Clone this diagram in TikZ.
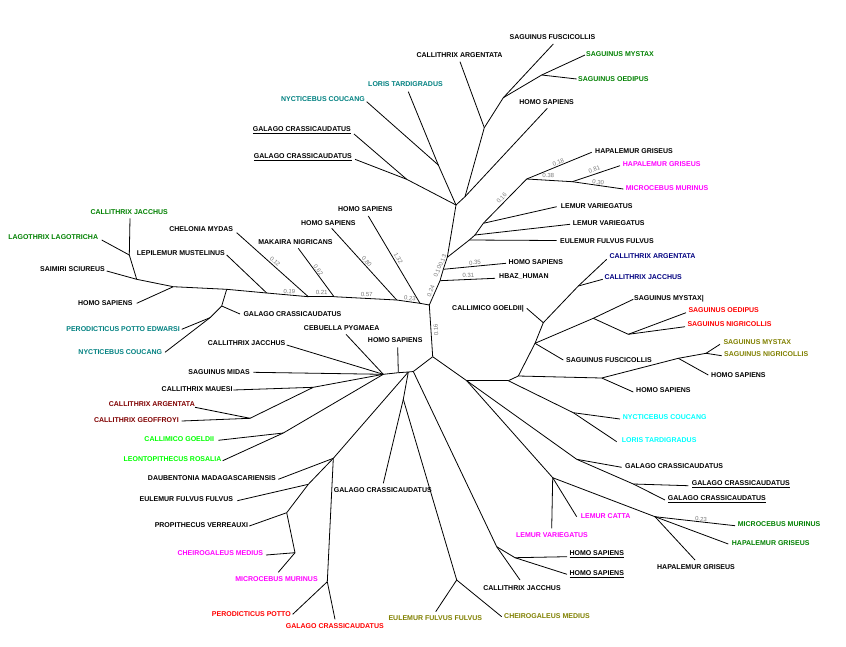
\documentclass[tikz,border=0pt]{standalone}
\usepackage{fontspec}
\setmainfont{Liberation Sans}
\newcommand\leaffont{\fontsize{7}{8}\selectfont\bfseries}
\newcommand\brnumfont{\fontsize{6}{7}\selectfont}
\definecolor{tealc}{RGB}{0,128,128}
\definecolor{greenc}{RGB}{0,128,0}
\definecolor{magc}{RGB}{255,0,255}
\definecolor{navyc}{RGB}{0,0,128}
\definecolor{redc}{RGB}{255,0,0}
\definecolor{olivec}{RGB}{128,128,0}
\definecolor{maroonc}{RGB}{128,0,0}
\definecolor{limec}{RGB}{0,255,0}
\definecolor{cyanc}{RGB}{0,255,255}
\definecolor{numgray}{RGB}{120,120,120}
\tikzset{
  br/.style={line width=0.8pt},
  lf/.style={font=\leaffont, inner sep=0pt},
  num/.style={font=\brnumfont, text=numgray, inner sep=0pt},
}
\begin{document}
\begin{tikzpicture}[x=1pt,y=-1pt]
\useasboundingbox (0,0) rectangle (846,646);
% ---------- coordinates: top cluster
\coordinate (A) at (456,205);
\coordinate (g) at (406.7,179.3); \coordinate (tGal1) at (354,134); \coordinate (tGal2) at (355,159.3);
\coordinate (n) at (438.3,165); \coordinate (tNyc) at (366.7,101.7); \coordinate (tLor) at (408.3,91.7);
\coordinate (h) at (465,196.7); \coordinate (tHomo) at (547.3,108.3);
\coordinate (c) at (484.3,127.7); \coordinate (tCarg) at (460,61.7);
\coordinate (s) at (503.3,97.7); \coordinate (tSfus) at (553.3,44);
\coordinate (m) at (541.7,75); \coordinate (tSmys) at (585,55); \coordinate (tSoed) at (576.7,79);
% spine and lemur cluster
\coordinate (j1) at (447.3,257.3); \coordinate (j2) at (443.3,269.3); \coordinate (j3) at (440,280.7); \coordinate (Q) at (429.3,305);
\coordinate (lHomo) at (506,263.3); \coordinate (lHbaz) at (495,278.3);
\coordinate (L0) at (469.3,240); \coordinate (lEul) at (556.7,240.5);
\coordinate (L) at (475,235); \coordinate (lLv2) at (570,224.3);
\coordinate (L1) at (483.3,223.3); \coordinate (lLv1) at (556.7,206.7);
\coordinate (H) at (526.7,179); \coordinate (lHg1) at (591.7,152.3);
\coordinate (H2) at (572.3,181.7); \coordinate (lHg2) at (620,165.7); \coordinate (lMic) at (623.3,189);
% left cluster
\coordinate (P1) at (420,303.3); \coordinate (wH132) at (368.3,216);
\coordinate (P2) at (396.7,300); \coordinate (wH080) at (331.7,228.3);
\coordinate (P3) at (334,296.7); \coordinate (wMak) at (298.3,248.3);
\coordinate (P4) at (308.3,296.7); \coordinate (wChe) at (236.7,232.7);
\coordinate (P5) at (266.7,293); \coordinate (wLep) at (226.7,255);
\coordinate (P6) at (226.7,289.3); \coordinate (gp) at (221.7,306); \coordinate (wGal) at (240,314);
\coordinate (pn) at (210,317.7); \coordinate (wPer) at (181.7,329.3); \coordinate (wNyc) at (165,352.3);
\coordinate (P7) at (173.3,286.7); \coordinate (wHomo) at (136.7,303.3);
\coordinate (P8) at (136.7,279.3); \coordinate (la) at (129.3,255); \coordinate (wCjac) at (130,218.3);
\coordinate (wLag) at (101.7,240); \coordinate (wSai) at (106.7,271);
% bottom-left
\coordinate (R) at (432.7,356.7);
\coordinate (S0) at (413.3,371.5); \coordinate (S1) at (408.3,372); \coordinate (S2) at (398.3,372.7); \coordinate (S3) at (383.3,374.3);
\coordinate (bHomo) at (397.7,347.3); \coordinate (bCeb) at (346,334.3); \coordinate (bCjac) at (286.7,345);
\coordinate (bSmid) at (253.3,372.3);
\coordinate (mk) at (313.3,387.3); \coordinate (bMau) at (233.3,390);
\coordinate (ag) at (250,418.3); \coordinate (bCarg) at (195,407.3); \coordinate (bCgeo) at (181.7,421);
\coordinate (cl) at (283.3,433); \coordinate (bCalm) at (218.3,440.3); \coordinate (bLeo) at (222.7,460.7);
\coordinate (d0) at (333.3,458.3); \coordinate (bDau) at (278.3,479.3);
\coordinate (eu) at (308.3,484.3); \coordinate (bEul) at (237.3,500.7);
\coordinate (pv) at (286.7,512.7); \coordinate (bPro) at (249.3,526);
\coordinate (cm) at (295,552.7); \coordinate (bChe) at (266,555); \coordinate (bMic) at (278.3,572.3);
\coordinate (pg) at (327.3,581.7); \coordinate (bPer) at (292.7,614.3); \coordinate (bGal) at (335,619.3);
\coordinate (ge) at (403.3,399.3); \coordinate (bGalk) at (383.3,483.3);
\coordinate (E) at (456.7,580); \coordinate (bEulo) at (435.7,611.7); \coordinate (bCheo) at (501.7,616.7);
\coordinate (CJ) at (496.7,546.7); \coordinate (bCjk) at (520,580);
\coordinate (HH) at (515,557.7); \coordinate (bHs1) at (567,556.7); \coordinate (bHs2) at (567,574.3);
% right cluster
\coordinate (T) at (466.7,380.7); \coordinate (T2) at (508.3,380.7); \coordinate (T3) at (518.3,376);
\coordinate (F) at (535,343.3); \coordinate (F0) at (543.3,322.7); \coordinate (cc) at (578.3,286);
\coordinate (rCarg) at (606.7,259.3); \coordinate (rCjac) at (602.7,279.3); \coordinate (rCalm) at (526.7,308.3);
\coordinate (rSfus) at (563.3,360); \coordinate (ms) at (593.3,318.3); \coordinate (rSmys) at (633.3,299.3);
\coordinate (SO) at (628.3,334.3); \coordinate (rSoed) at (686,312.7); \coordinate (rSnig) at (685,326.7);
\coordinate (HS2) at (601.7,378); \coordinate (rHs1) at (633.3,392);
\coordinate (HM) at (678.3,358.3); \coordinate (rHs2) at (708.3,375);
\coordinate (SN) at (706,353.3); \coordinate (rSmyo) at (720,344.3); \coordinate (rSnio) at (721.7,355.7);
\coordinate (NL) at (573.3,412.7); \coordinate (rNyc) at (620,419); \coordinate (rLor) at (616.7,441.7);
\coordinate (G3) at (576.7,459.3); \coordinate (rGal) at (621.7,467.3);
\coordinate (G4) at (633.3,484); \coordinate (rGu1) at (688.3,485.7); \coordinate (rGu2) at (665,500);
\coordinate (LC) at (552.7,477.7); \coordinate (rLv) at (551.7,528.3); \coordinate (rLc) at (576.7,516.7);
\coordinate (MH) at (655,516.7); \coordinate (rMm) at (735,525.7); \coordinate (rHgg) at (728.3,544); \coordinate (rHgb) at (695,560);
% ---------- branches
\foreach \a/\b in {A/g, g/tGal1, g/tGal2, A/n, n/tNyc, n/tLor, A/h, h/tHomo, h/c, c/tCarg, c/s, s/tSfus, s/m, m/tSmys, m/tSoed,
  A/j1, j1/j2, j2/j3, j3/Q, j2/lHomo, j3/lHbaz, j1/L0, L0/L, L/L1, L1/H, L0/lEul, L/lLv2, L1/lLv1, H/lHg1, H/H2, H2/lHg2, H2/lMic,
  Q/P1, P1/P2, P2/P3, P3/P4, P4/P5, P5/P6, P6/P7, P7/P8, P1/wH132, P2/wH080, P3/wMak, P4/wChe, P5/wLep, P6/gp, gp/wGal, gp/pn, pn/wPer, pn/wNyc, P7/wHomo, P8/la, la/wCjac, la/wLag, P8/wSai,
  Q/R, R/S0, S0/S1, S1/S2, S2/S3, S2/bHomo, S3/bCeb, S3/bCjac, S3/bSmid, S3/mk, mk/bMau, mk/ag, ag/bCarg, ag/bCgeo, S3/cl, cl/bCalm, cl/bLeo,
  S1/d0, d0/bDau, d0/eu, eu/bEul, eu/pv, pv/bPro, pv/cm, cm/bChe, cm/bMic, d0/pg, pg/bPer, pg/bGal, S1/ge, ge/bGalk, ge/E, E/bEulo, E/bCheo,
  S0/CJ, CJ/bCjk, CJ/HH, HH/bHs1, HH/bHs2,
  R/T, T/T2, T2/T3, T3/F, F/F0, F0/cc, cc/rCarg, cc/rCjac, F0/rCalm, F/rSfus, F/ms, ms/rSmys, ms/SO, SO/rSoed, SO/rSnig,
  T3/HS2, HS2/rHs1, HS2/HM, HM/rHs2, HM/SN, SN/rSmyo, SN/rSnio, T2/NL, NL/rNyc, NL/rLor, T/G3, G3/rGal, G3/G4, G4/rGu1, G4/rGu2,
  T/LC, LC/rLv, LC/rLc, LC/MH, MH/rMm, MH/rHgg, MH/rHgb}
  \draw[br] (\a) -- (\b);
% ---------- leaf labels: top
\node[lf] (n1) at (552.5,37.3) {SAGUINUS FUSCICOLLIS};
\node[lf,anchor=west,text=greenc] (n2) at (586,54.3) {SAGUINUS MYSTAX};
\node[lf,anchor=west,text=greenc] (n3) at (578,78.7) {SAGUINUS OEDIPUS};
\node[lf] (n4) at (546.5,102.3) {HOMO SAPIENS};
\node[lf] (n5) at (459.5,55.3) {CALLITHRIX ARGENTATA};
\node[lf,text=tealc] (n6) at (405.5,84.3) {LORIS TARDIGRADUS};
\node[lf,anchor=east,text=tealc] (n7) at (365,99.3) {NYCTICEBUS COUCANG};
\node[lf,anchor=east] (n8) at (351,130) {\underline{GALAGO CRASSICAUDATUS}};
\node[lf,anchor=east] (n9) at (352,157) {\underline{GALAGO CRASSICAUDATUS}};
\node[lf,anchor=west] (n10) at (595,150.7) {HAPALEMUR GRISEUS};
\node[lf,anchor=west,text=magc] (n11) at (622.7,164.3) {HAPALEMUR GRISEUS};
\node[lf,anchor=west,text=magc] (n12) at (625.7,187.7) {MICROCEBUS MURINUS};
\node[lf,anchor=west] (n13) at (560.7,205.7) {LEMUR VARIEGATUS};
\node[lf,anchor=west] (n14) at (572.7,223.3) {LEMUR VARIEGATUS};
\node[lf,anchor=west] (n15) at (560,240.7) {EULEMUR FULVUS FULVUS};
\node[lf,anchor=west] (n16) at (508.3,262.3) {HOMO SAPIENS};
\node[lf,anchor=west] (n17) at (499,276.7) {HBAZ\_HUMAN};
% left
\node[lf] (n18) at (365.3,209.3) {HOMO SAPIENS};
\node[lf] (n19) at (328.3,223.3) {HOMO SAPIENS};
\node[lf] (n20) at (295.5,241.7) {MAKAIRA NIGRICANS};
\node[lf,anchor=east] (n21) at (233.3,229.3) {CHELONIA MYDAS};
\node[lf,anchor=east] (n22) at (225,253.3) {LEPILEMUR MUSTELINUS};
\node[lf,text=greenc] (n23) at (129.2,211.7) {CALLITHRIX JACCHUS};
\node[lf,anchor=east,text=greenc] (n24) at (98.3,237.3) {LAGOTHRIX LAGOTRICHA};
\node[lf,anchor=east] (n25) at (105,269) {SAIMIRI SCIUREUS};
\node[lf,anchor=east] (n26) at (132.7,302.7) {HOMO SAPIENS};
\node[lf,anchor=west] (n27) at (243.3,314.3) {GALAGO CRASSICAUDATUS};
\node[lf,anchor=east,text=tealc] (n28) at (180,329.3) {PERODICTICUS POTTO EDWARSI};
\node[lf,anchor=east,text=tealc] (n29) at (162.3,351.7) {NYCTICEBUS COUCANG};
% bottom-left
\node[lf] (n30) at (341.7,328.3) {CEBUELLA PYGMAEA};
\node[lf] (n31) at (395.2,340) {HOMO SAPIENS};
\node[lf,anchor=east] (n32) at (285.5,343.3) {CALLITHRIX JACCHUS};
\node[lf,anchor=east] (n33) at (250,371.7) {SAGUINUS MIDAS};
\node[lf,anchor=east] (n34) at (232.7,389) {CALLITHRIX MAUESI};
\node[lf,anchor=east,text=maroonc] (n35) at (195,404) {CALLITHRIX ARGENTATA};
\node[lf,anchor=east,text=maroonc] (n36) at (179,420.3) {CALLITHRIX GEOFFROYI};
\node[lf,anchor=east,text=limec] (n37) at (214.3,439.3) {CALLIMICO GOELDII};
\node[lf,anchor=east,text=limec] (n38) at (221.7,459.3) {LEONTOPITHECUS ROSALIA};
\node[lf,anchor=east] (n39) at (276,478.3) {DAUBENTONIA MADAGASCARIENSIS};
\node[lf,anchor=east] (n40) at (233.3,499.3) {EULEMUR FULVUS FULVUS};
\node[lf,anchor=east] (n41) at (248.3,525) {PROPITHECUS VERREAUXI};
\node[lf,anchor=east,text=magc] (n42) at (263.3,553.3) {CHEIROGALEUS MEDIUS};
\node[lf,text=magc] (n43) at (276.5,579) {MICROCEBUS MURINUS};
\node[lf,anchor=east,text=redc] (n44) at (291,614.3) {PERODICTICUS POTTO};
\node[lf,text=redc] (n45) at (334.8,626) {GALAGO CRASSICAUDATUS};
\node[lf] (n46) at (382.8,490) {GALAGO CRASSICAUDATUS};
\node[lf,text=olivec] (n47) at (435.3,618.3) {EULEMUR FULVUS FULVUS};
\node[lf,anchor=west,text=olivec] (n48) at (504,616) {CHEIROGALEUS MEDIUS};
\node[lf] (n49) at (522,587.7) {CALLITHRIX JACCHUS};
\node[lf,anchor=west] (n50) at (569.3,554) {\underline{HOMO SAPIENS}};
\node[lf,anchor=west] (n51) at (569.3,574) {\underline{HOMO SAPIENS}};
% right
\node[lf,anchor=west,text=navyc] (n52) at (609.3,256) {CALLITHRIX ARGENTATA};
\node[lf,anchor=west,text=navyc] (n53) at (604.3,277.3) {CALLITHRIX JACCHUS};
\node[lf,anchor=west] (n54) at (634,299) {SAGUINUS MYSTAX|};
\node[lf,anchor=west,text=redc] (n55) at (688.3,310.3) {SAGUINUS OEDIPUS};
\node[lf,anchor=west,text=redc] (n56) at (687.3,324.3) {SAGUINUS NIGRICOLLIS};
\node[lf,anchor=east] (n57) at (524,308.3) {CALLIMICO GOELDII|};
\node[lf,anchor=west] (n58) at (566,360.3) {SAGUINUS FUSCICOLLIS};
\node[lf,anchor=west,text=olivec] (n59) at (723.3,341.7) {SAGUINUS MYSTAX};
\node[lf,anchor=west,text=olivec] (n60) at (724,354.3) {SAGUINUS NIGRICOLLIS};
\node[lf,anchor=west] (n61) at (711,374.7) {HOMO SAPIENS};
\node[lf,anchor=west] (n62) at (636,390.5) {HOMO SAPIENS};
\node[lf,anchor=west,text=cyanc] (n63) at (622.7,417.3) {NYCTICEBUS COUCANG};
\node[lf,anchor=west,text=cyanc] (n64) at (621.7,440.3) {LORIS TARDIGRADUS};
\node[lf,anchor=west] (n65) at (625,466.3) {GALAGO CRASSICAUDATUS};
\node[lf,anchor=west] (n66) at (691.7,484.3) {\underline{GALAGO CRASSICAUDATUS}};
\node[lf,anchor=west] (n67) at (667.7,499) {\underline{GALAGO CRASSICAUDATUS}};
\node[lf,anchor=west,text=magc] (n68) at (580.7,515.7) {LEMUR CATTA};
\node[lf,text=magc] (n69) at (552,535) {LEMUR VARIEGATUS};
\node[lf,anchor=west,text=greenc] (n70) at (737.7,523.7) {MICROCEBUS MURINUS};
\node[lf,anchor=west,text=greenc] (n71) at (731.7,543.3) {HAPALEMUR GRISEUS};
\node[lf] (n72) at (696,567.3) {HAPALEMUR GRISEUS};
% ---------- branch lengths
\node[num,rotate=47] (b1) at (501.7,198.3) {0.16};
\node[num,rotate=22] (b2) at (558.3,162.3) {0.18};
\node[num,rotate=-3] (b3) at (548.3,175.7) {0.38};
\node[num,rotate=18] (b4) at (594.3,169.3) {0.81};
\node[num,rotate=-8] (b5) at (598.3,182.3) {0.30};
\node[num,rotate=5] (b6) at (475,262.7) {0.35};
\node[num,rotate=2] (b7) at (468.3,275.7) {0.31};
\node[num,rotate=68] (b8) at (442.5,260.5) {0.13};
\node[num,rotate=68] (b9) at (437.5,271.5) {0.10};
\node[num,rotate=68] (b10) at (430.8,291) {0.24};
\node[num,rotate=94] (b11) at (436,330) {0.16};
\node[num,rotate=-42] (b12) at (275,261.7) {0.12};
\node[num,rotate=-54] (b13) at (318.3,270) {0.62};
\node[num,rotate=-48] (b14) at (366.7,261.7) {0.80};
\node[num,rotate=-59] (b15) at (398.3,258.3) {1.32};
\node[num,rotate=-5] (b16) at (289.3,291.7) {0.19};
\node[num,rotate=-2] (b17) at (321.7,292.7) {0.21};
\node[num,rotate=-3] (b18) at (366.7,294.3) {0.57};
\node[num,rotate=-8] (b19) at (410,298.3) {0.23};
\node[num,rotate=-4] (b20) at (701,519) {0.23};
\end{tikzpicture}
\end{document}
